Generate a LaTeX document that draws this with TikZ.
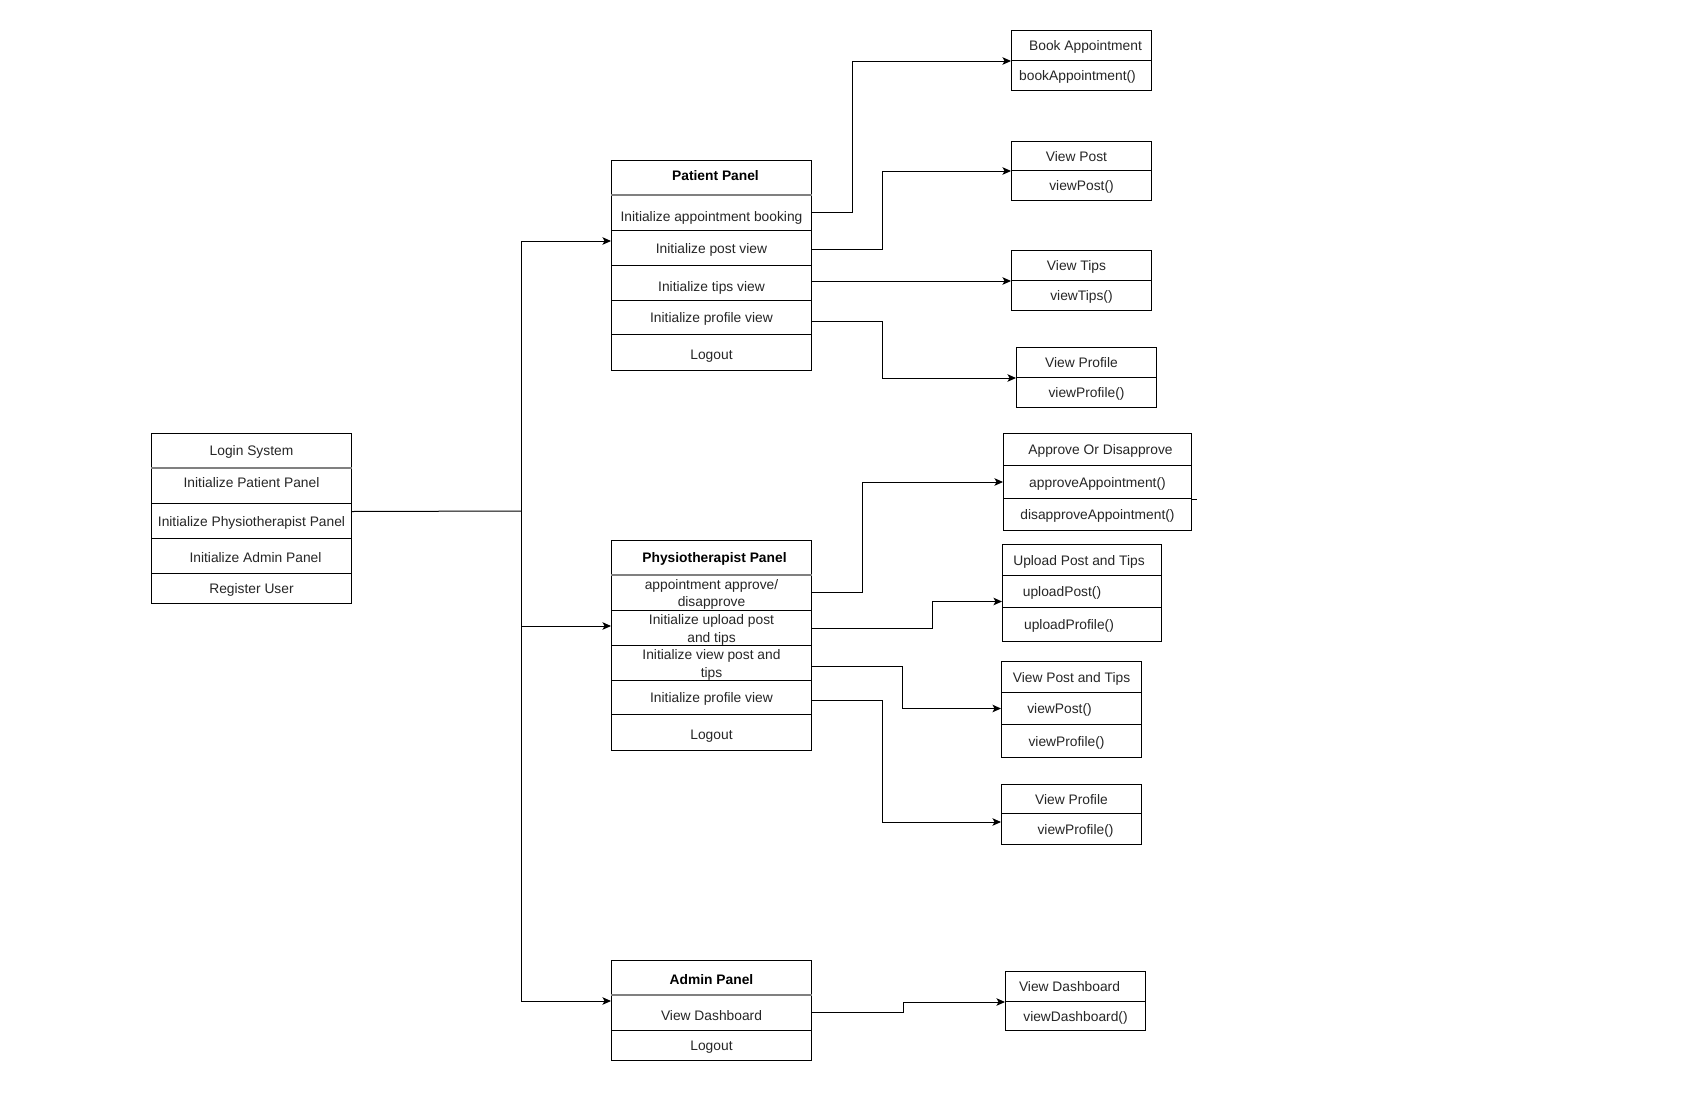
\documentclass[tikz,border=0pt]{standalone}
\usepackage{fontspec}
\setmainfont{Liberation Sans}
\usetikzlibrary{arrows.meta}
\newcommand\dn[2]{\raisebox{-#1pt}[\height][\depth]{#2}}
\newcommand\twol[2]{\raisebox{-2pt}[\height][\depth]{\begin{tabular}{@{}c@{}}#1\\#2\end{tabular}}}
\begin{document}
\begin{tikzpicture}[x=1pt,y=-1pt,
  cellbase/.style={draw=black, line width=1pt, rectangle, inner sep=0pt, anchor=north west,
    align=center, font=\fontsize{13.8}{17.5}\selectfont, text=black!85},
  cell/.style={cellbase, text height=11pt, text depth=1pt},
  twoline/.style={cellbase},
  hdr/.style={cell, font=\fontsize{13.8}{17.5}\selectfont\bfseries, text=black},
  conn/.style={line width=1pt, draw=black, -{Stealth[length=8.5pt,width=7.5pt,inset=2pt]}},
  plain/.style={line width=1pt, draw=black},
  sep/.style={line width=1.3pt, draw=black!50}
]
\useasboundingbox (0,0) rectangle (1700,1100);
\fill[white] (0,0) rectangle (1700,1100);

% Login System
\node[cell, minimum width=200pt, minimum height=34pt] (login0) at (151,433) {Login System};
\node[cell, minimum width=200pt, minimum height=36pt] (login1) at (151,467) {\dn{-3}{Initialize Patient Panel}};
\node[cell, minimum width=200pt, minimum height=35pt] (login2) at (151,503) {Initialize Physiotherapist Panel};
\node[cell, minimum width=200pt, minimum height=35pt] (login3) at (151,538) {\dn{1.5}{\hspace{8pt}Initialize Admin Panel}};
\node[cell, minimum width=200pt, minimum height=30pt] (login4) at (151,573) {Register User};
\draw[sep] (login0.south west) -- (login0.south east);

% Patient Panel
\node[hdr,  minimum width=200pt, minimum height=34pt] (p0) at (611,160) {\dn{-2}{\hspace{8pt}Patient Panel}};
\node[cell, minimum width=200pt, minimum height=36pt] (p1) at (611,194) {\dn{3.5}{Initialize appointment booking}};
\node[cell, minimum width=200pt, minimum height=35pt] (p2) at (611,230) {Initialize post view};
\node[cell, minimum width=200pt, minimum height=35pt] (p3) at (611,265) {\dn{3}{Initialize tips view}};
\node[cell, minimum width=200pt, minimum height=34pt] (p4) at (611,300) {Initialize profile view};
\node[cell, minimum width=200pt, minimum height=36pt] (p5) at (611,334) {\dn{2}{Logout}};
\draw[sep] (p0.south west) -- (p0.south east);

% Physiotherapist Panel
\node[hdr,  minimum width=200pt, minimum height=34pt] (f0) at (611,540) {\hspace{6pt}Physiotherapist Panel};
\node[twoline, minimum width=200pt, minimum height=36pt] (f1) at (611,574) {\twol{appointment approve/}{disapprove}};
\node[twoline, minimum width=200pt, minimum height=35pt] (f2) at (611,610) {\twol{Initialize upload post}{and tips}};
\node[twoline, minimum width=200pt, minimum height=35pt] (f3) at (611,645) {\twol{Initialize view post and}{tips}};
\node[cell, minimum width=200pt, minimum height=34pt] (f4) at (611,680) {Initialize profile view};
\node[cell, minimum width=200pt, minimum height=36pt] (f5) at (611,714) {\dn{2}{Logout}};
\draw[sep] (f0.south west) -- (f0.south east);

% Admin Panel
\node[hdr,  minimum width=200pt, minimum height=34pt] (a0) at (611,960) {\dn{2}{Admin Panel}};
\node[cell, minimum width=200pt, minimum height=36pt] (a1) at (611,994) {\dn{3}{View Dashboard}};
\node[cell, minimum width=200pt, minimum height=30pt] (a2) at (611,1030) {Logout};
\draw[sep] (a0.south west) -- (a0.south east);

% Right-hand boxes (patient)
\node[cell, minimum width=140pt, minimum height=30pt] (b0) at (1011,30) {\hspace{8pt}Book Appointment};
\node[cell, minimum width=140pt, minimum height=30pt] (b1) at (1011,60) {bookAppointment()\hspace{8pt}};
\node[cell, minimum width=140pt, minimum height=29pt] (vp0) at (1011,141) {View Post\hspace{10pt}};
\node[cell, minimum width=140pt, minimum height=30pt] (vp1) at (1011,170) {viewPost()};
\node[cell, minimum width=140pt, minimum height=30pt] (vt0) at (1011,250) {View Tips\hspace{10pt}};
\node[cell, minimum width=140pt, minimum height=30pt] (vt1) at (1011,280) {viewTips()};
\node[cell, minimum width=140pt, minimum height=30pt] (pr0) at (1016,347) {View Profile\hspace{10pt}};
\node[cell, minimum width=140pt, minimum height=30pt] (pr1) at (1016,377) {viewProfile()};

% Right-hand boxes (physiotherapist)
\node[cell, minimum width=188pt, minimum height=32pt] (ap0) at (1003,433) {\hspace{6pt}Approve Or Disapprove};
\node[cell, minimum width=188pt, minimum height=33pt] (ap1) at (1003,465) {approveAppointment()};
\node[cell, minimum width=188pt, minimum height=32pt] (ap2) at (1003,498) {disapproveAppointment()};
\draw[plain] (ap1.south east) -- ++(5,0);
\node[cell, minimum width=159pt, minimum height=31pt] (up0) at (1002,544) {Upload Post and Tips\hspace{6pt}};
\node[cell, minimum width=159pt, minimum height=32pt] (up1) at (1002,575) {uploadPost()\hspace{40pt}};
\node[cell, minimum width=159pt, minimum height=34pt] (up2) at (1002,607) {uploadProfile()\hspace{26pt}};
\node[cell, minimum width=140pt, minimum height=31pt] (vpt0) at (1001,661) {View Post and Tips};
\node[cell, minimum width=140pt, minimum height=32pt] (vpt1) at (1001,692) {viewPost()\hspace{24pt}};
\node[cell, minimum width=140pt, minimum height=33pt] (vpt2) at (1001,724) {viewProfile()\hspace{10pt}};
\node[cell, minimum width=140pt, minimum height=29pt] (vpr0) at (1001,784) {View Profile};
\node[cell, minimum width=140pt, minimum height=31pt] (vpr1) at (1001,813) {viewProfile()\hspace{-8pt}};

% Right-hand box (admin)
\node[cell, minimum width=140pt, minimum height=30pt] (vd0) at (1005,971) {View Dashboard\hspace{12pt}};
\node[cell, minimum width=140pt, minimum height=29pt] (vd1) at (1005,1001) {viewDashboard()};

% Trunk from Login System
\coordinate (tJoin) at (521,511);
\coordinate (tTop) at (521,241);
\coordinate (tMid) at (521,626);
\coordinate (tBot) at (521,1001);
\draw[plain] ([yshift=9.5pt]login2.east) -- (tJoin);
\draw[plain] (tTop) -- (tBot);
\draw[conn] (tTop) -- (tTop -| p2.west);
\draw[conn] (tMid) -- (tMid -| f2.west);
\draw[conn] (tBot) -- (tBot -| a1.west);

% Patient panel connectors
\draw[conn] (p1.east) -- ++(40,0) |- (b0.south west);
\draw[conn] ([yshift=-1.5pt]p2.east) -- ++(70,0) |- (vp0.south west);
\draw[conn] (p3.east |- vt0.south west) -- (vt0.south west);
\draw[conn] ([yshift=-3.5pt]p4.east) -- ++(70,0) |- (pr0.south west);

% Physiotherapist panel connectors
\draw[conn] (f1.east) -- ++(50,0) |- (ap1.west);
\draw[conn] (f2.east) -- ++(120,0) |- ([yshift=6.5pt]up1.south west);
\draw[conn] ([yshift=-3pt]f3.east) -- ++(90,0) |- (vpt1.west);
\draw[conn] ([yshift=-3pt]f4.east) -- ++(70,0) |- ([yshift=-8pt]vpr0.south west);

% Admin panel connector
\draw[conn] (a1.east) -- ++(91,0) |- (vd0.south west);
\end{tikzpicture}
\end{document}
